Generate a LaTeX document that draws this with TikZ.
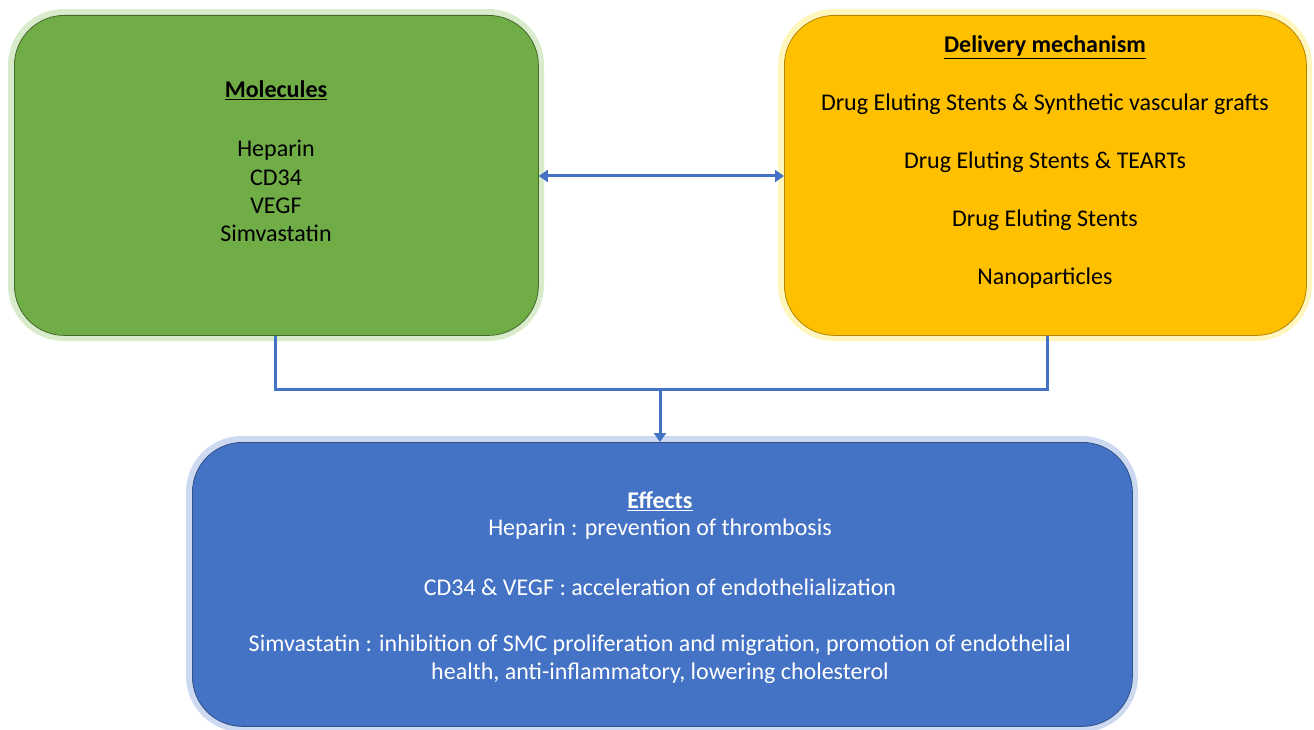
\documentclass[tikz,border=0pt]{standalone}
\usepackage{fontspec}
\setmainfont{Carlito}
\usetikzlibrary{arrows.meta}
\definecolor{cgreen}{HTML}{70AD47}
\definecolor{corange}{HTML}{FFC000}
\definecolor{cblue}{HTML}{4472C4}
\definecolor{gglow}{HTML}{D8EBCB}
\definecolor{oglow}{HTML}{FFF6BD}
\definecolor{bglow}{HTML}{CCD9F0}
\tikzset{
  box/.style={rounded corners=50pt, line width=0.8pt},
  glow/.style={line width=6pt, rounded corners=53pt},
  conn/.style={draw=cblue, line width=3pt},
  txt/.style={font=\fontsize{24}{24}\selectfont, align=center, inner sep=0pt},
}
\begin{document}
\begin{tikzpicture}[x=1pt,y=-1pt]
\useasboundingbox (0,0) rectangle (1314,730);
% glows
\draw[gglow, glow] (11,12) rectangle (541,338);
\draw[oglow, glow] (781,12) rectangle (1309,338);
\draw[bglow, glow] (189,439) rectangle (1135,729);
% boxes
\node[box, draw=cgreen!60!black, fill=cgreen, minimum width=524pt, minimum height=320pt, anchor=north west] (mol) at (14,15) {};
\node[box, draw=corange!70!black, fill=corange, minimum width=522pt, minimum height=320pt, anchor=north west] (del) at (784,15) {};
\node[box, draw=cblue!70!black, fill=cblue, minimum width=940pt, minimum height=284pt, anchor=north west] (eff) at (192,442) {};
% texts
\node[txt] (molt) at (276,90) {\textbf{\underline{Molecules}}};
\node[txt, font=\fontsize{24}{28.3}\selectfont] (moll) at (276,191) {Heparin\\CD34\\VEGF\\Simvastatin};
\node[txt] (delt) at (1045,47) {\textbf{\underline{Delivery mechanism}}};
\node[txt] (d1) at (1045,104) {Drug Eluting Stents \& Synthetic vascular grafts};
\node[txt] (d2) at (1045,162) {Drug Eluting Stents \& TEARTs};
\node[txt] (d3) at (1045,220) {Drug Eluting Stents};
\node[txt] (d4) at (1045,278) {Nanoparticles};
\node[txt, text=white] (efft) at (660,501) {\textbf{\underline{Effects}}};
\node[txt, text=white] (e1) at (660,529) {Heparin : prevention of thrombosis};
\node[txt, text=white] (e2) at (660,587) {CD34 \& VEGF : acceleration of endothelialization};
\node[txt, text=white, font=\fontsize{24}{28}\selectfont] (e3) at (660,659) {Simvastatin : inhibition of SMC proliferation and migration, promotion of endothelial\\health, anti-inflammatory, lowering cholesterol};
% connectors
\coordinate (j) at (660,389);
\draw[conn, {Triangle[length=9pt,width=12pt]}-{Triangle[length=9pt,width=12pt]}] (mol.east |- 0,176) -- (del.west |- 0,176);
\draw[conn] (mol.south -| 275,0) -- (275,389) -- (1047,389) -- (del.south -| 1047,0);
\draw[conn, -{Triangle[length=9pt,width=12pt]}] (j) -- (j |- eff.north);
\end{tikzpicture}
\end{document}
